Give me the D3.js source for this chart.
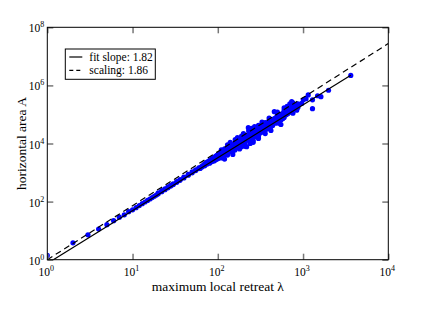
<!DOCTYPE html>
<html>
<head>
<meta charset="utf-8">
<script src="https://cdn.jsdelivr.net/npm/d3@7"></script>
<style>
html,body{margin:0;padding:0;background:#fff;}
text{font-family:"Liberation Serif","Times New Roman",serif;}
</style>
</head>
<body>
<svg id="chart" width="423" height="327"></svg>
<script>
// ---- data ----
const lambdaVals = [
 1,2,3,4,5,6,7,8,9,
 10,11,12,13,14,15,16,17,18,19,20,20,22,22,24,24,26,26,28,28,30,30,33,33,36,36,40,40,45,45,50,50,55,55,60,60,
 62,62,65,65,68,68,70,70,70,73,73,75,75,75,78,78,80,80,80,83,83,83,85,85,85,88,88,88,90,90,90,93,93,93,95,95,95,98,98,98,
 100,100,100,100,105,105,105,110,110,110,110,115,115,115,120,120,120,120,125,125,125,130,130,130,130,135,135,135,
 140,140,140,140,145,145,145,150,150,150,150,155,155,155,159,160,160,160,165,165,165,170,170,170,170,175,175,175,
 180,180,180,180,185,185,185,190,190,190,190,195,195,195,200,200,200,200,210,210,210,218,218,218,228,228,228,
 235,235,235,240,240,240,240,250,250,250,260,260,260,260,270,270,270,280,280,280,280,290,290,290,300,300,300,300,
 315,315,315,330,330,330,345,345,345,360,360,360,360,380,380,380,400,400,400,400,420,420,420,440,440,440,
 460,460,460,480,480,480,500,500,500,500,526,526,526,550,550,550,580,580,580,600,600,600,600,630,630,630,
 660,660,660,700,700,700,700,736,736,736,760,760,800,800,800,842,842,870,870,
 110,120,130,140,150,160,170,180,190,200,210,230,250,260,270,300,300,330,360,400,420,500,550,600,650,700,760,
 964,1007,1083,1150,1290,1290,1480,1620,1990,3630
];
const areaVals = [
 1.4,3.8,7.2,11.3,16,22,29,35,45,
 52,62,73,85,97,110,123,138,153,169,185,200,220,238,258,275,299,320,342,365,387,410,461,490,540,575,654,700,811,860,982,1050,1169,1250,1369,1460,
 1450,1380,1560,1650,1750,1820,1800,1950,1700,2000,2150,2100,2300,1950,2250,2450,2300,2600,2100,2500,2750,2300,2600,2900,2400,2800,3100,2550,2850,3300,2500,3000,3500,2700,3200,3700,2800,3400,3900,3000,
 3500,4100,3000,3800,3700,4500,3300,4100,4800,3600,3200,4400,5300,3900,4800,5800,4200,6500,5200,6000,4500,5500,6800,4800,4000,6000,7200,5200,
 6400,7800,5500,8500,6800,8200,5800,7200,9000,6000,5200,7700,9500,6500,6000,8100,10000,6800,8600,10500,7200,9100,11500,7500,12500,9600,12000,8000,
 10000,13000,8500,15000,10500,13500,8800,11000,14000,9200,7800,11700,15000,9500,12200,16000,10000,18000,13300,17000,11000,14000,7800,18500,35000,15500,20000,
 16500,21000,13000,17000,22000,14000,10000,18500,24000,15000,19700,26000,16000,13000,21000,28000,17500,22500,30000,18500,35000,24000,31000,20000,25500,33000,21000,17000,
 28000,36000,23000,30500,40000,25000,33000,43000,27000,35500,46000,29000,52000,39000,50000,32000,43000,56000,35000,62000,47000,60000,38000,51000,66000,42000,
 55000,125000,72000,60000,78000,50000,65000,85000,55000,95000,50000,72000,92000,77000,100000,65000,85000,110000,72000,90000,120000,78000,140000,98000,130000,150000,
 105000,140000,175000,120000,160000,200000,130000,275000,180000,140000,250000,150000,160000,220000,200000,140000,190000,230000,175000,
 6000,2900,9000,11000,4200,13500,16000,6500,18000,22000,8000,27000,33000,11000,38000,42000,15000,55000,22000,75000,28000,120000,45000,170000,190000,230000,110000,
 240000,320000,350000,470000,320000,158000,440000,410000,680000,2200000
];
const fitSlope = 1.82, fitPrefactor = 0.74, fitRange = [1, 3630];
const scaleExp = 1.86, scaleRange = [1, 10000];
const xTicks = [1, 10, 100, 1000, 10000];
const yTicks = [1, 100, 1e4, 1e6, 1e8];
const legendLabels = ["fit slope: 1.82", "scaling: 1.86"];

// ---- layout ----
const svg = d3.select("#chart");
const L = 47.3, R = 388.3, T = 27.3, B = 259.7;
const x = d3.scaleLog().domain([1, 1e4]).range([L, R]);
const y = d3.scaleLog().domain([1, 1e8]).range([B, T]);

svg.append("defs").append("clipPath").attr("id","clip")
  .append("rect").attr("x",L).attr("y",T).attr("width",R-L).attr("height",B-T);

const g = svg.append("g").attr("clip-path","url(#clip)");

const lineGen = d3.line().x(d=>x(d[0])).y(d=>y(d[1]));
const fitPts = fitRange.map(l=>[l, fitPrefactor*Math.pow(l, fitSlope)]);
const scPts = scaleRange.map(l=>[l, Math.pow(l, scaleExp)]);

const pts = lambdaVals.map((l,i)=>[l, areaVals[i]]);
g.selectAll("circle").data(pts).enter().append("circle")
  .attr("cx",d=>x(d[0])).attr("cy",d=>y(d[1])).attr("r",2.6).attr("fill","#0000ff");

g.append("path").attr("d",lineGen(scPts)).attr("fill","none").attr("stroke","#000")
  .attr("stroke-width",1.2).attr("stroke-dasharray","6,4");
g.append("path").attr("d",lineGen(fitPts)).attr("fill","none").attr("stroke","#000")
  .attr("stroke-width",1.2);

// ticks (inward on all sides)
const tickCol = "#777", tl = 6;
const axB = d3.axisBottom(x).tickValues(xTicks).tickSizeInner(-tl).tickSizeOuter(0).tickFormat("");
const axT = d3.axisTop(x).tickValues(xTicks).tickSizeInner(-tl).tickSizeOuter(0).tickFormat("");
const axLft = d3.axisLeft(y).tickValues(yTicks).tickSizeInner(-tl).tickSizeOuter(0).tickFormat("");
const axRt = d3.axisRight(y).tickValues(yTicks).tickSizeInner(-tl).tickSizeOuter(0).tickFormat("");
[[axB,`translate(0,${B})`],[axT,`translate(0,${T})`],[axLft,`translate(${L},0)`],[axRt,`translate(${R},0)`]].forEach(([a,t])=>{
  const ag = svg.append("g").attr("transform",t).call(a);
  ag.select(".domain").remove();
  ag.selectAll(".tick line").attr("stroke",tickCol).attr("stroke-width",1.5);
});

svg.append("rect").attr("x",L).attr("y",T).attr("width",R-L).attr("height",B-T)
  .attr("fill","none").attr("stroke","#000").attr("stroke-width",1);

function expLabel(sel, v){
  const e = Math.round(Math.log10(v));
  sel.append("tspan").text("10");
  sel.append("tspan").attr("dy",-5).attr("font-size",8).text(e);
}
xTicks.forEach(v=>{
  const t = svg.append("text").attr("x",x(v)-1).attr("y",B+16).attr("text-anchor","middle")
    .attr("font-size",11.5).attr("fill","#000");
  expLabel(t,v);
});
yTicks.forEach(v=>{
  const t = svg.append("text").attr("x",L-3).attr("y",y(v)+5).attr("text-anchor","end")
    .attr("font-size",11.5).attr("fill","#000");
  expLabel(t,v);
});

svg.append("text").attr("x",(L+R)/2).attr("y",290.5).attr("text-anchor","middle")
  .attr("font-size",13.5).text("maximum local retreat λ");
svg.append("text").attr("transform",`translate(26,${(T+B)/2}) rotate(-90)`)
  .attr("text-anchor","middle").attr("font-size",13.5).text("horizontal area A");

const lg = svg.append("g");
lg.append("rect").attr("x",65.3).attr("y",49).attr("width",90).attr("height",30.3)
  .attr("fill","#fff").attr("stroke","#000").attr("stroke-width",1);
lg.append("line").attr("x1",69.3).attr("x2",82.3).attr("y1",57).attr("y2",57)
  .attr("stroke","#000").attr("stroke-width",1.2);
lg.append("line").attr("x1",69.3).attr("x2",82.3).attr("y1",70.3).attr("y2",70.3)
  .attr("stroke","#000").attr("stroke-width",1.2).attr("stroke-dasharray","4,3");
legendLabels.forEach((s,i)=>{
  lg.append("text").attr("x",89.3).attr("y",61+i*13.3).attr("font-size",11.5).text(s);
});
</script>
</body>
</html>
